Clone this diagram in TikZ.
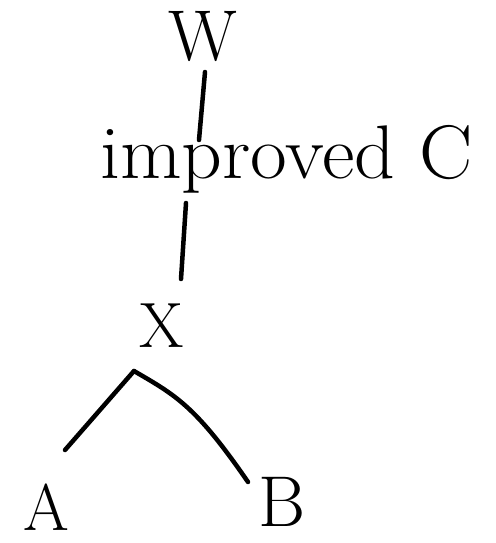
\documentclass[tikz,border=0pt]{standalone}
\begin{document}
\begin{tikzpicture}[x=1pt,y=-1pt,
  lbl/.style={inner sep=0pt,font=\fontsize{72}{76}\selectfont},
  edge/.style={line width=4.5pt,line cap=round}]
\useasboundingbox (0,0) rectangle (495,543);
\node[lbl] (W) at (203,36) {W};
\node[lbl,anchor=base west,font=\fontsize{76}{80}\selectfont,xscale=1.05] (C) at (100,178) {improved C};
\node[lbl,font=\fontsize{64}{68}\selectfont] (X) at (162,326) {X};
\node[lbl,font=\fontsize{66}{70}\selectfont] (A) at (46,507) {A};
\node[lbl] (B) at (282,502) {B};
\coordinate (w1) at (205,72);
\coordinate (w2) at (199,140);
\coordinate (c1) at (186,203);
\coordinate (c2) at (181,279);
\coordinate (x1) at (134,371);
\coordinate (a1) at (65,450);
\coordinate (b1) at (248,482);
\draw[edge] (w1) -- (w2);
\draw[edge] (c1) -- (c2);
\draw[edge] (x1) -- (a1);
\draw[edge] (x1) .. controls (175,395) and (195,405) .. (b1);
\end{tikzpicture}
\end{document}
